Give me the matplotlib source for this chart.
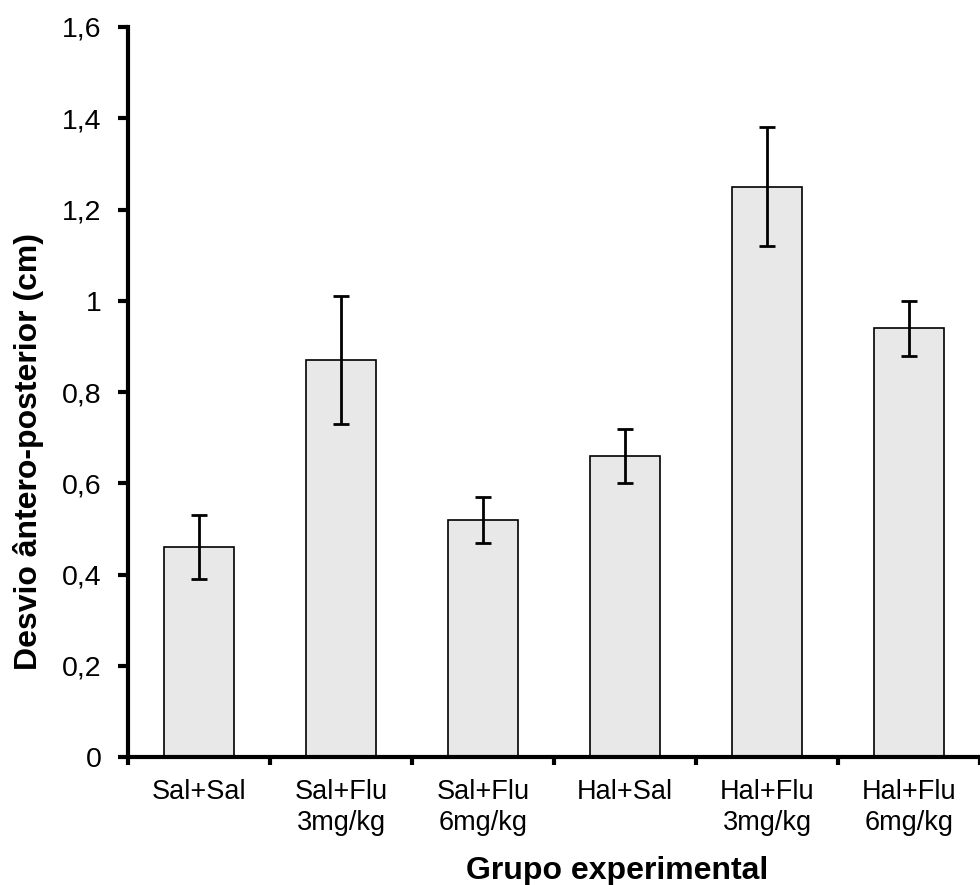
import numpy as np
import matplotlib
matplotlib.use("Agg")
import matplotlib.pyplot as plt
from matplotlib.ticker import FixedLocator, FuncFormatter

plt.rcParams['font.family'] = ['Liberation Sans', 'DejaVu Sans']

# Data
groups = ["Sal+Sal", "Sal+Flu\n3mg/kg", "Sal+Flu\n6mg/kg", "Hal+Sal",
          "Hal+Flu\n3mg/kg", "Hal+Flu\n6mg/kg"]
means = [0.46, 0.87, 0.52, 0.66, 1.25, 0.94]
errors = [0.07, 0.14, 0.05, 0.06, 0.13, 0.06]

fig = plt.figure(figsize=(9.8, 8.85), dpi=100)
ax = fig.add_axes([0.1306, 0.1446, 0.8694, 0.8249])

x = np.arange(len(groups))
ax.bar(x, means, width=0.49, color='#e8e8e8', edgecolor='black', linewidth=1.2)
ax.errorbar(x, means, yerr=errors, fmt='none', ecolor='black', elinewidth=2,
            capsize=5.5, capthick=2)

ax.set_xlim(-0.5, 5.5)
ax.set_ylim(0, 1.6)
ax.set_yticks(np.arange(0, 1.61, 0.2))
ax.yaxis.set_major_formatter(FuncFormatter(
    lambda v, p: '0' if abs(v) < 1e-9 else ('1' if abs(v - 1) < 1e-9 else f'{v:.1f}'.replace('.', ','))))
ax.set_xticks(x)
ax.set_xticklabels(groups, fontsize=19.5, linespacing=1.25)
ax.xaxis.set_minor_locator(FixedLocator(np.arange(-0.5, 5.6, 1.0)))
ax.tick_params(axis='x', which='major', length=0, pad=16)
ax.tick_params(axis='x', which='minor', length=6, width=3, direction='out')
ax.tick_params(axis='y', labelsize=20.5, length=7, width=3, direction='out', pad=12)

for s in ['top', 'right']:
    ax.spines[s].set_visible(False)
ax.spines['left'].set_linewidth(3)
ax.spines['bottom'].set_linewidth(3)

ax.set_ylabel('Desvio ântero-posterior (cm)', fontsize=23, fontweight='bold')
ax.set_xlabel('Grupo experimental', fontsize=23, fontweight='bold')
ax.yaxis.set_label_coords(-0.099, 0.419)
ax.xaxis.set_label_coords(0.574, -0.136)

fig.savefig('out.png', dpi=100)
